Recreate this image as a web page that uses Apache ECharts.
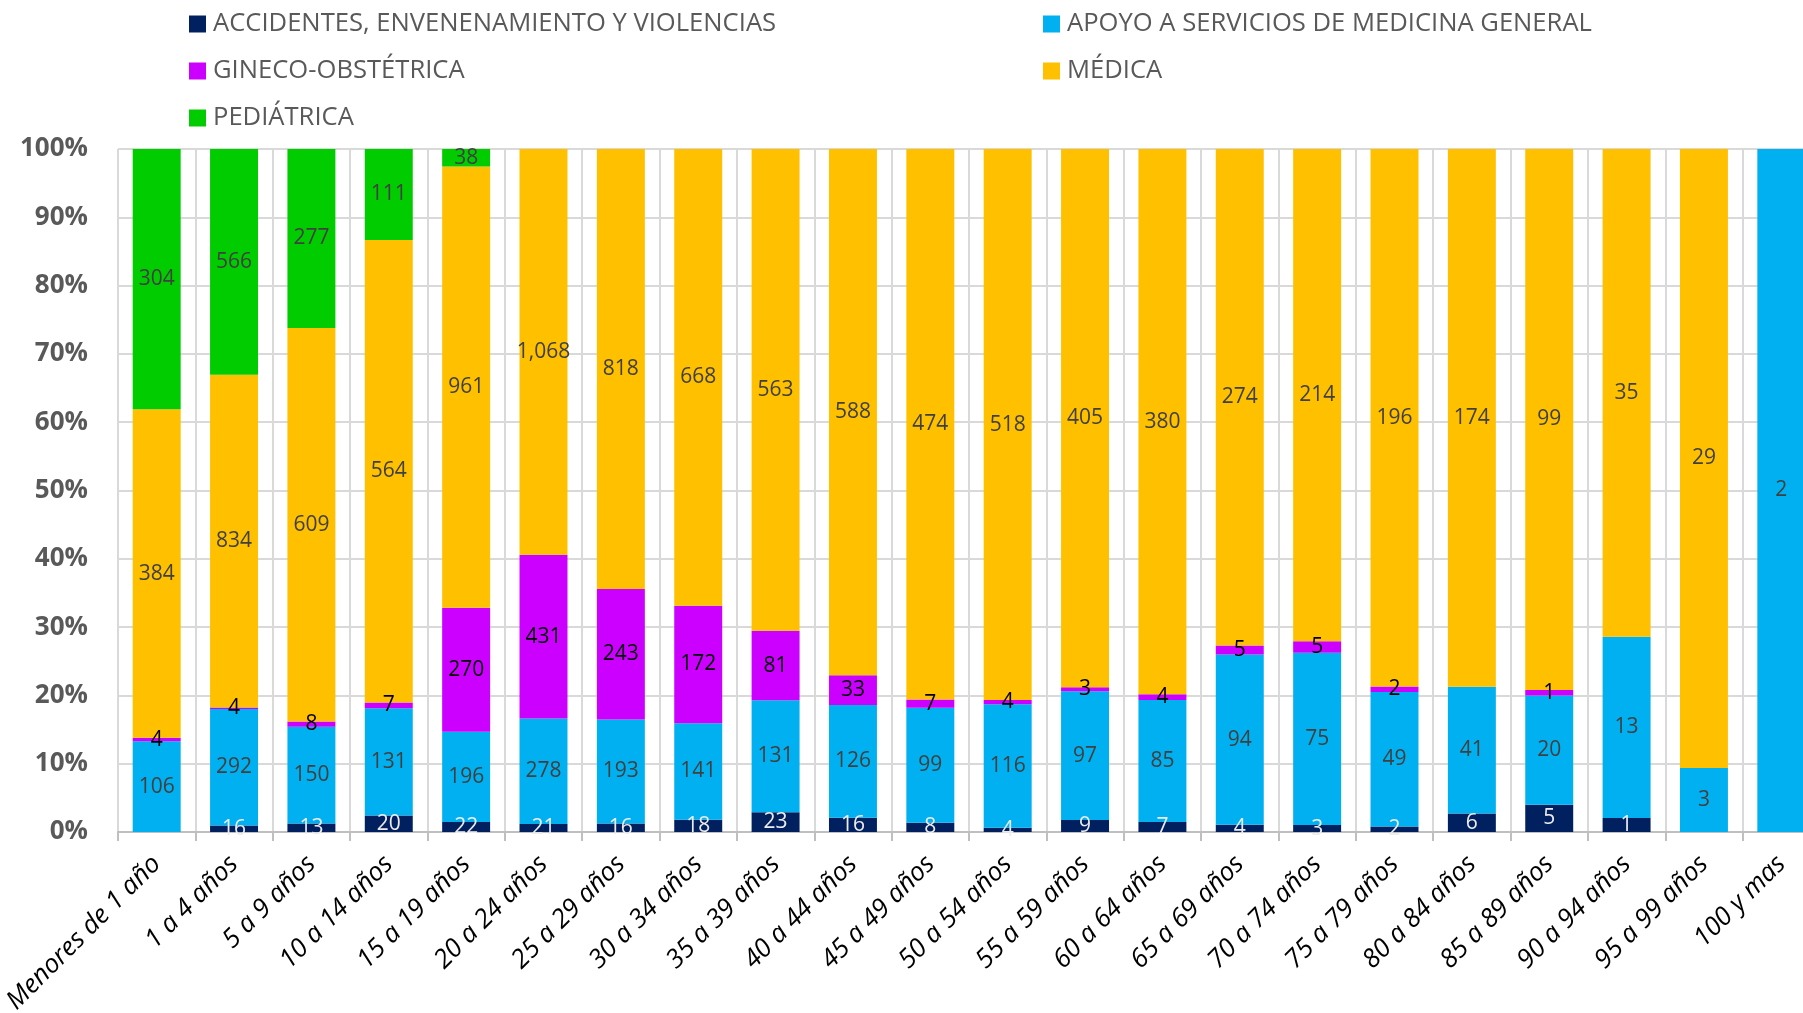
<!DOCTYPE html>
<html>
<head>
<meta charset="utf-8">
<script src="https://cdn.jsdelivr.net/npm/echarts@6/dist/echarts.min.js"></script>
<style>
html,body{margin:0;padding:0;background:#fff;overflow:hidden;width:1803px;height:1013px;}
#chart{width:1820px;height:1013px;}
</style>
</head>
<body>
<div id="chart"></div>
<script>
const categories = ["Menores de 1 año","1 a 4 años","5 a 9 años","10 a 14 años","15 a 19 años","20 a 24 años","25 a 29 años","30 a 34 años","35 a 39 años","40 a 44 años","45 a 49 años","50 a 54 años","55 a 59 años","60 a 64 años","65 a 69 años","70 a 74 años","75 a 79 años","80 a 84 años","85 a 89 años","90 a 94 años","95 a 99 años","100 y mas"];
const accidentes = [0,16,13,20,22,21,16,18,23,16,8,4,9,7,4,3,2,6,5,1,0,0];
const apoyo = [106,292,150,131,196,278,193,141,131,126,99,116,97,85,94,75,49,41,20,13,3,2];
const gineco = [4,4,8,7,270,431,243,172,81,33,7,4,3,4,5,5,2,0,1,0,0,0];
const medica = [384,834,609,564,961,1068,818,668,563,588,474,518,405,380,274,214,196,174,99,35,29,0];
const pediatrica = [304,566,277,111,38,0,0,0,0,0,0,0,0,0,0,0,0,0,0,0,0,0];
const yTicks = [0,0.1,0.2,0.3,0.4,0.5,0.6,0.7,0.8,0.9,1];

const seriesDefs = [
  {name:"ACCIDENTES, ENVENENAMIENTO Y VIOLENCIAS", data:accidentes, color:"#002060", label:"#ececec"},
  {name:"APOYO A SERVICIOS DE MEDICINA GENERAL", data:apoyo, color:"#00B0F0", label:"#404040"},
  {name:"GINECO-OBSTÉTRICA", data:gineco, color:"#CC00FF", label:"#000000"},
  {name:"MÉDICA", data:medica, color:"#FFC000", label:"#404040"},
  {name:"PEDIÁTRICA", data:pediatrica, color:"#00CC00", label:"#404040"}
];
const totals = categories.map((c,i)=>seriesDefs.reduce((s,d)=>s+d.data[i],0));
const FONT = "'Open Sans', sans-serif";

const series = seriesDefs.map(d=>({
  name:d.name,
  type:'bar',
  stack:'total',
  barWidth:'62%',
  itemStyle:{color:d.color},
  emphasis:{disabled:true},
  label:{
    show:true,
    position:'inside',
    color:d.label,
    fontSize:21,
    fontFamily:FONT,
    formatter:p=>{const v=d.data[p.dataIndex];return v>0?v.toLocaleString('en-US'):'';}
  },
  data:d.data.map((v,i)=>v/totals[i])
}));

const legendCommon = {
  orient:'vertical',
  icon:'rect',
  itemWidth:17,
  itemHeight:17,
  itemGap:21,
  textStyle:{fontSize:25.6,color:'#595959',fontFamily:FONT,padding:[0,0,0,2]},
  selectedMode:false
};

const chart = echarts.init(document.getElementById('chart'));
chart.setOption({
  animation:false,
  backgroundColor:'#fff',
  legend:[
    Object.assign({left:184,top:6,data:[seriesDefs[0].name,seriesDefs[2].name,seriesDefs[4].name]},legendCommon),
    Object.assign({left:1038,top:6,data:[seriesDefs[1].name,seriesDefs[3].name]},legendCommon)
  ],
  grid:{left:118,right:0,top:149,bottom:181,outerBoundsMode:'none'},
  xAxis:{
    type:'category',
    data:categories,
    axisLine:{lineStyle:{color:'#bfbfbf',width:2}},
    axisTick:{show:true,length:9,lineStyle:{color:'#bfbfbf',width:2}},
    splitLine:{show:true,lineStyle:{color:'#d9d9d9',width:2}},
    axisLabel:{rotate:45,interval:0,fontSize:26,fontStyle:'italic',color:'#000',fontFamily:FONT,margin:28}
  },
  yAxis:{
    type:'value',
    min:yTicks[0],
    max:yTicks[yTicks.length-1],
    interval:0.1,
    axisLine:{show:false},
    axisTick:{show:false},
    splitLine:{show:true,lineStyle:{color:'#d9d9d9',width:2}},
    axisLabel:{fontSize:26,fontWeight:'bold',color:'#595959',fontFamily:FONT,margin:30,
      formatter:v=>Math.round(v*100)+'%'}
  },
  series:series
});
</script>
</body>
</html>
